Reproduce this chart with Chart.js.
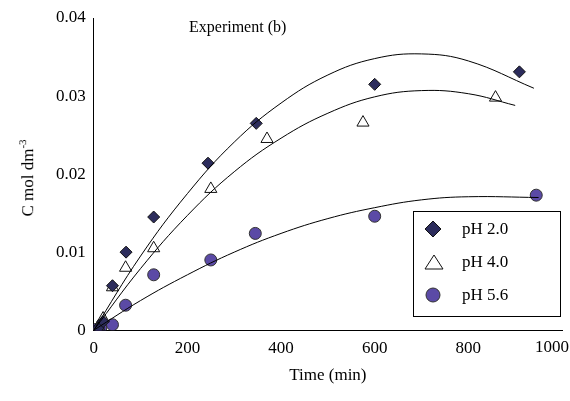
<!DOCTYPE html>
<html><head>
<script src="https://cdn.jsdelivr.net/npm/chart.js@4"></script>
<style>
body{margin:0;background:#fff;font-family:"Liberation Serif",serif;}
#wrap{position:relative;width:570px;height:401px;overflow:hidden;}
#ytitle{position:absolute;left:27px;top:178px;transform:translate(0,-50%) rotate(-90deg);transform-origin:center;font-size:17px;white-space:nowrap;width:0;}
#ytitle span{display:inline-block;transform:translateX(-50%);}
#legend{position:absolute;left:413px;top:211px;width:146px;height:104px;border:1px solid #000;background:#fff;font-size:17px;}
#legend div{height:33px;line-height:33px;padding-left:48px;position:relative;}
#legend svg{position:absolute;left:10px;top:8px;}
#exp{position:absolute;left:189px;top:18px;font-size:16px;}
#lastx{position:absolute;right:1px;top:337px;font-size:17px;}
</style>
</head><body>
<div id="wrap">
<canvas id="c" width="570" height="401"></canvas>
<div id="ytitle"><span>C mol dm<sup style="font-size:11px">-3</sup></span></div>
<div id="exp">Experiment (b)</div>
<div id="lastx">1000</div>
<div id="legend">
<div><svg width="18" height="18"><polygon points="9,1 17,9 9,17 1,9" fill="#2c2c5c" stroke="#111"/></svg>pH 2.0</div>
<div><svg width="20" height="18"><polygon points="10,2 19,16 1,16" fill="#fff" stroke="#111"/></svg>pH 4.0</div>
<div><svg width="18" height="18"><circle cx="9" cy="9" r="7" fill="#5b4aa6" stroke="#333"/></svg>pH 5.6</div>
</div>
</div>
<script>
const ph2X = [10, 20, 40, 69, 128, 244, 347, 600, 909];
const ph2Y = [0.0003, 0.0011, 0.0057, 0.0100, 0.0145, 0.0214, 0.0265, 0.0315, 0.0331];
const ph4X = [10, 20, 40, 68, 128, 250, 370, 575, 858];
const ph4Y = [0.0005, 0.0015, 0.0055, 0.0080, 0.0105, 0.0181, 0.0245, 0.0266, 0.0298];
const ph56X = [5, 15, 40, 68, 128, 250, 345, 600, 945];
const ph56Y = [0.0001, 0.0003, 0.0007, 0.0032, 0.0071, 0.0090, 0.0124, 0.0146, 0.0173];
// trend curves
const fitX2 = [0, 100, 200, 300, 400, 500, 600, 700, 800, 940];
const fit2 = [0, 0.0095, 0.0175, 0.0241, 0.0291, 0.0327, 0.0348, 0.0354, 0.0345, 0.0310];
const fitX4 = [0, 100, 200, 300, 400, 500, 600, 700, 800, 900];
const fit4 = [0, 0.0079, 0.0147, 0.0203, 0.0246, 0.0278, 0.0299, 0.0307, 0.0303, 0.0288];
const fitX56 = [0, 100, 200, 300, 400, 500, 600, 700, 800, 950];
const fit56 = [0, 0.0038, 0.0071, 0.0100, 0.0124, 0.0143, 0.0157, 0.0167, 0.0171, 0.0170];
const xTicks = [0, 200, 400, 600, 800, 1000];
const yTicks = [0, 0.01, 0.02, 0.03, 0.04];

const pts = (xs, ys) => xs.map((x, i) => ({x: x, y: ys[i]}));
const fitLine = (xs, ys) => ({type: 'line', data: pts(xs, ys), borderColor: '#000', borderWidth: 1,
  pointRadius: 0, tension: 0.4, fill: false});
const font = {family: 'Liberation Serif', size: 17};

new Chart(document.getElementById('c'), {
  type: 'scatter',
  data: {datasets: [
    fitLine(fitX2, fit2), fitLine(fitX4, fit4), fitLine(fitX56, fit56),
    {data: pts(ph2X, ph2Y), pointStyle: 'rectRot', pointRadius: 6, backgroundColor: '#2c2c5c', borderColor: '#111', borderWidth: 1},
    {data: pts(ph4X, ph4Y), pointStyle: 'triangle', pointRadius: 7, backgroundColor: '#fff', borderColor: '#111', borderWidth: 1},
    {data: pts(ph56X, ph56Y), pointStyle: 'circle', pointRadius: 6, backgroundColor: '#5b4aa6', borderColor: '#333', borderWidth: 1}
  ]},
  options: {
    responsive: false, animation: false,
    layout: {padding: {left: 53, right: 2, top: 18, bottom: 11}},
    plugins: {legend: {display: false}, tooltip: {enabled: false}},
    scales: {
      x: {type: 'linear', min: 0, max: 1000, afterBuildTicks: a => { a.ticks = xTicks.map(v => ({value: v})); },
        afterFit: s => { s.paddingRight = 0; },
        grid: {display: false, drawTicks: true, tickLength: 5}, border: {color: '#000'},
        ticks: {color: '#000', font: font, callback: v => v === 1000 ? '' : String(v)},
        title: {display: true, text: 'Time (min)', color: '#000', font: {family: 'Liberation Serif', size: 17}}},
      y: {min: 0, max: 0.04, afterBuildTicks: a => { a.ticks = yTicks.map(v => ({value: v})); },
        grid: {display: false, tickLength: 5}, border: {color: '#000'},
        ticks: {color: '#000', font: font, callback: v => v === 0 ? '0' : String(Math.round(v * 100) / 100)}}
    }
  }
});
</script>
</body></html>
